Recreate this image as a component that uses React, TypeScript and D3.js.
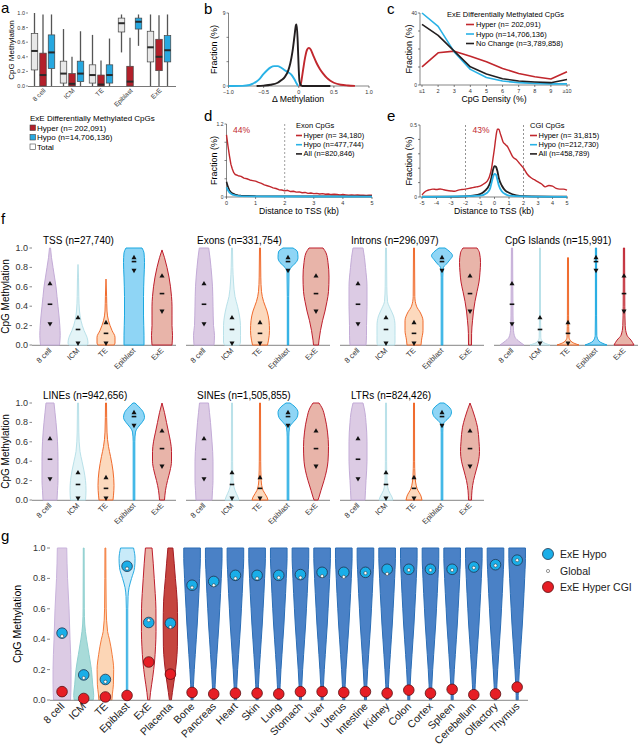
import React from "react";
import * as d3 from "d3";

const FONT = "'Liberation Sans', Arial, Helvetica, sans-serif";
const RED = "#c1272d";
const BLUE = "#29b2e6";
const BLACK = "#231f20";

// ---------------- Panel a ----------------
const aGroups = ["8 cell", "ICM", "TE", "Epiblast", "ExE"];
const aSeries = ["Total", "Hyper", "Hypo"];
// [whiskerLow, q1, median, q3, whiskerHigh]
const aTotal = [[0, 0.22, 0.48, 0.72, 1.0], [0, 0.04, 0.17, 0.34, 0.78], [0, 0.04, 0.15, 0.29, 0.7], [0.46, 0.74, 0.86, 0.93, 0.98], [0, 0.33, 0.53, 0.75, 0.98]];
const aHyper = [[0, 0, 0.15, 0.45, 0.98], [0, 0, 0.03, 0.17, 0.4], [0, 0, 0.02, 0.15, 0.35], [0, 0, 0.06, 0.27, 0.66], [0, 0.21, 0.4, 0.64, 0.97]];
const aHypo = [[0, 0.24, 0.46, 0.7, 0.98], [0, 0.06, 0.17, 0.34, 0.75], [0, 0.04, 0.15, 0.29, 0.65], [0.55, 0.78, 0.88, 0.93, 0.98], [0, 0.33, 0.49, 0.69, 0.98]];
const aLegend = ["Hyper (n= 202,091)", "Hypo (n=14,706,136)", "Total"];

// ---------------- Panel b ----------------
const bHypo = [[-1, 0], [-0.8, 0.02], [-0.7, 0.12], [-0.65, 0.3], [-0.6, 0.55], [-0.55, 0.95], [-0.5, 1.5], [-0.45, 1.95], [-0.4, 2.3], [-0.35, 2.45], [-0.3, 2.45], [-0.25, 2.25], [-0.2, 1.95], [-0.15, 1.7], [-0.1, 1.35], [-0.06, 0.8], [-0.03, 0.3], [-0.01, 0]];
const bNoChange = [[-0.6, 0], [-0.5, 0.05], [-0.4, 0.15], [-0.3, 0.4], [-0.25, 0.7], [-0.2, 1.1], [-0.15, 1.9], [-0.12, 2.8], [-0.09, 4.2], [-0.06, 6.2], [-0.04, 7.5], [-0.03, 7.6], [-0.015, 5.5], [0, 2.0], [0.01, 0.6], [0.03, 0.1], [0.05, 0], [0.45, 0]];
const bHyper = [[0.01, 0], [0.03, 0.3], [0.06, 1.9], [0.09, 3.5], [0.12, 4.5], [0.145, 4.7], [0.17, 4.5], [0.2, 3.9], [0.25, 2.9], [0.3, 2.1], [0.35, 1.5], [0.4, 1.0], [0.45, 0.65], [0.5, 0.4], [0.6, 0.15], [0.7, 0.06], [0.8, 0.02]];

// ---------------- Panel c ----------------
const cCategories = ["≤1", "2", "3", "4", "5", "6", "7", "8", "9", "≥10"];
const cHyper = [10.1, 17.9, 18.8, 16, 12.9, 9.2, 6.4, 4.6, 3.3, 7.4];
const cHypo = [40, 32.6, 18.4, 8.7, 4.2, 2.2, 1.3, 0.9, 0.6, 0.6];
const cNoChange = [33.7, 27.6, 18.8, 10.1, 6.1, 3.5, 2.2, 1.7, 1.3, 3.1];
const cLegend = ["Hyper (n= 202,091)", "Hypo (n=14,706,136)", "No Change (n=3,789,858)"];

// ---------------- Panel d ----------------
const dHyper = [[0, 1.02], [0.05, 0.84], [0.1, 0.68], [0.15, 0.54], [0.2, 0.46], [0.25, 0.4], [0.3, 0.37], [0.4, 0.35], [0.5, 0.34], [0.6, 0.31], [0.7, 0.3], [0.8, 0.28], [0.9, 0.27], [1.0, 0.26], [1.1, 0.24], [1.2, 0.225], [1.3, 0.2], [1.4, 0.185], [1.5, 0.17], [1.6, 0.15], [1.7, 0.14], [1.8, 0.12], [1.9, 0.115], [2.0, 0.1], [2.1, 0.11], [2.2, 0.09], [2.3, 0.095], [2.4, 0.08], [2.5, 0.085], [2.6, 0.07], [2.7, 0.075], [2.8, 0.06], [2.9, 0.065], [3.0, 0.055], [3.1, 0.06], [3.2, 0.05], [3.3, 0.055], [3.4, 0.045], [3.5, 0.05], [3.6, 0.04], [3.7, 0.045], [3.8, 0.04], [3.9, 0.035], [4.0, 0.04], [4.1, 0.035], [4.2, 0.03], [4.3, 0.035], [4.4, 0.03], [4.5, 0.032], [4.6, 0.028], [4.7, 0.03], [4.8, 0.027], [4.9, 0.03], [5.0, 0.028]];
const dHypo = [[0, 0.16], [0.05, 0.11], [0.1, 0.075], [0.15, 0.055], [0.2, 0.04], [0.3, 0.028], [0.4, 0.02], [0.5, 0.016], [1, 0.01], [2, 0.008], [5, 0.007]];
const dAll = [[0, 0.25], [0.05, 0.17], [0.1, 0.11], [0.15, 0.08], [0.2, 0.06], [0.3, 0.04], [0.4, 0.03], [0.5, 0.025], [0.75, 0.02], [1, 0.015], [2, 0.012], [3, 0.01], [4, 0.01], [5, 0.01]];
const dLegend = ["Hyper (n= 34,180)", "Hypo (n=477,744)", "All (n=820,846)"];

// ---------------- Panel e ----------------
const eHyper = [[-5, 0.015], [-4.75, 0.04], [-4.5, 0.05], [-4.25, 0.055], [-4, 0.052], [-3.75, 0.056], [-3.5, 0.05], [-3.25, 0.045], [-3, 0.042], [-2.75, 0.04], [-2.5, 0.048], [-2.25, 0.052], [-2, 0.055], [-1.75, 0.06], [-1.5, 0.065], [-1.25, 0.07], [-1, 0.075], [-0.75, 0.09], [-0.5, 0.11], [-0.35, 0.14], [-0.2, 0.2], [-0.1, 0.27], [0, 0.34], [0.1, 0.42], [0.2, 0.47], [0.3, 0.47], [0.4, 0.44], [0.5, 0.41], [0.6, 0.38], [0.7, 0.37], [0.8, 0.36], [0.9, 0.35], [1.0, 0.33], [1.1, 0.31], [1.25, 0.28], [1.5, 0.26], [1.75, 0.23], [2.0, 0.2], [2.25, 0.16], [2.5, 0.135], [2.75, 0.12], [3, 0.105], [3.25, 0.09], [3.5, 0.07], [3.75, 0.08], [4, 0.075], [4.25, 0.06], [4.5, 0.055], [4.75, 0.055], [5, 0.048]];
const eAll = [[-5, 0.002], [-2, 0.005], [-1.5, 0.01], [-1, 0.02], [-0.75, 0.035], [-0.5, 0.06], [-0.3, 0.1], [-0.2, 0.14], [-0.1, 0.19], [0, 0.215], [0.1, 0.21], [0.2, 0.18], [0.3, 0.13], [0.5, 0.08], [0.75, 0.045], [1, 0.03], [1.5, 0.012], [2, 0.006], [5, 0.002]];
const eHypo = [[-5, 0.001], [-1, 0.01], [-0.5, 0.03], [-0.3, 0.06], [-0.2, 0.1], [-0.1, 0.14], [0, 0.16], [0.1, 0.155], [0.2, 0.12], [0.3, 0.08], [0.5, 0.04], [0.75, 0.02], [1, 0.01], [2, 0.004], [5, 0.001]];
const eLegend = ["Hyper (n= 31,815)", "Hypo (n=212,730)", "All (n=458,789)"];

// ---------------- Panel f ----------------
const fCategories = ["8 cell", "ICM", "TE", "Epiblast", "ExE"];
// each violin: [methylation, half-width density] from top to bottom
const fTSS = [
  [[1, 0.5], [0.9, 1.5], [0.8, 3], [0.7, 4.5], [0.6, 6], [0.5, 7], [0.4, 8], [0.3, 9], [0.2, 9.8], [0.1, 10.2], [0, 9.5]],
  [[0.83, 0], [0.7, 0.5], [0.5, 0.8], [0.35, 1.5], [0.25, 3], [0.15, 6], [0.08, 9], [0.02, 10], [0, 9]],
  [[0.68, 0], [0.5, 0.6], [0.35, 1], [0.25, 2.5], [0.15, 6], [0.08, 9], [0.02, 9], [0, 8]],
  [[1, 8], [0.95, 10], [0.85, 10.5], [0.7, 10], [0.5, 9.5], [0.3, 9.5], [0.1, 10], [0, 10]],
  [[0.98, 0], [0.9, 2.5], [0.8, 5], [0.7, 7], [0.6, 8.5], [0.5, 9.5], [0.4, 10], [0.3, 10], [0.2, 10], [0.1, 10.5], [0, 10]],
];
const fExons = [
  [[1, 4.7], [0.9, 6], [0.8, 7], [0.6, 8.5], [0.4, 9], [0.2, 9.5], [0.1, 10.5], [0, 10]],
  [[1, 0.5], [0.8, 0.8], [0.65, 1.5], [0.5, 3], [0.4, 5.5], [0.3, 7.5], [0.2, 8.5], [0.1, 8.5], [0.03, 8.5], [0, 7.5]],
  [[1, 0.5], [0.7, 0.8], [0.55, 1.5], [0.45, 3.5], [0.35, 7], [0.25, 9], [0.15, 9.5], [0.05, 8.5], [0, 7.5]],
  [[1, 5], [0.96, 9.5], [0.9, 10], [0.85, 8], [0.8, 3], [0.75, 1], [0.5, 0.7], [0, 0.7]],
  [[1, 7], [0.95, 10], [0.85, 12], [0.7, 13], [0.55, 12.5], [0.45, 11], [0.35, 9], [0.25, 6.5], [0.15, 4.5], [0.05, 3], [0, 2.5]],
];
const fIntrons = [
  [[1, 5], [0.9, 6.5], [0.8, 7.5], [0.6, 9], [0.4, 9], [0.2, 8.5], [0.1, 8.5], [0, 8]],
  [[1, 0.5], [0.6, 0.8], [0.45, 1.5], [0.38, 4], [0.3, 7.5], [0.2, 9], [0.1, 9], [0.03, 9], [0, 8.5]],
  [[1, 0.5], [0.5, 0.8], [0.4, 2.5], [0.33, 6.5], [0.25, 9], [0.15, 9], [0.05, 7.5], [0, 7]],
  [[1, 3], [0.96, 8], [0.92, 10.5], [0.88, 8], [0.83, 4], [0.8, 1.5], [0.7, 0.8], [0, 0.8]],
  [[1, 7], [0.95, 9.5], [0.85, 10.5], [0.75, 10], [0.65, 9], [0.55, 7], [0.45, 5], [0.35, 3.5], [0.25, 2.5], [0.12, 1.6], [0, 1.5]],
];
const fCGI = [
  [[1, 0.6], [0.6, 0.8], [0.3, 1], [0.15, 1.5], [0.08, 3], [0.03, 8], [0, 12]],
  [[1, 0.5], [0.3, 0.5], [0.08, 0.8], [0.03, 3], [0, 10]],
  [[0.9, 0.5], [0.3, 0.6], [0.08, 1], [0.03, 4], [0, 11]],
  [[1, 0.6], [0.3, 0.6], [0.1, 0.8], [0.04, 3], [0, 11]],
  [[1, 0.6], [0.4, 0.8], [0.2, 1.2], [0.1, 3], [0.05, 7], [0, 10]],
];
const fLINEs = [
  [[1, 4], [0.9, 5], [0.8, 6], [0.6, 7.5], [0.4, 8], [0.2, 8], [0.1, 7.5], [0, 7]],
  [[1, 0.5], [0.7, 0.8], [0.5, 2], [0.4, 4], [0.3, 6], [0.2, 7.5], [0.1, 8], [0, 7.5]],
  [[1, 0.5], [0.7, 1], [0.55, 2.5], [0.45, 4.5], [0.3, 7], [0.15, 8], [0.05, 7.5], [0, 7]],
  [[1, 1], [0.96, 5], [0.9, 9.5], [0.85, 10.5], [0.8, 8], [0.75, 4], [0.7, 1.5], [0.6, 0.8], [0, 0.8]],
  [[1, 0], [0.9, 2.5], [0.8, 4.5], [0.7, 6.5], [0.6, 8.5], [0.5, 9.5], [0.4, 9.5], [0.3, 8], [0.2, 5.5], [0.1, 3.5], [0, 2.5]],
];
const fSINEs = [
  [[1, 4.5], [0.9, 5.5], [0.8, 6.5], [0.6, 8], [0.4, 9], [0.2, 9], [0.1, 8.5], [0, 8]],
  [[1, 0.5], [0.4, 0.6], [0.2, 1], [0.1, 3], [0.03, 6], [0, 7]],
  [[1, 0.5], [0.4, 0.7], [0.2, 1.2], [0.1, 3], [0.03, 7], [0, 8]],
  [[1, 2], [0.96, 7], [0.9, 10], [0.85, 9], [0.8, 5], [0.75, 1.5], [0.65, 0.8], [0, 0.8]],
  [[1, 3], [0.95, 6], [0.85, 9], [0.7, 11.5], [0.55, 12.5], [0.4, 12], [0.3, 10.5], [0.2, 8], [0.1, 5], [0.03, 3], [0, 2]],
];
const fLTRs = [
  [[1, 5], [0.9, 7], [0.8, 8], [0.6, 9], [0.4, 9], [0.2, 8], [0.1, 7.5], [0, 7]],
  [[1, 0.5], [0.4, 0.6], [0.2, 1], [0.1, 2.5], [0.03, 6], [0, 7]],
  [[1, 0.5], [0.4, 0.6], [0.25, 1], [0.12, 3], [0.04, 7], [0, 8]],
  [[1, 2], [0.96, 7], [0.91, 9.5], [0.86, 8], [0.82, 4], [0.78, 1.2], [0.7, 0.8], [0, 0.8]],
  [[1, 0], [0.93, 2.5], [0.85, 5], [0.75, 7.5], [0.6, 9], [0.5, 9.5], [0.4, 8.5], [0.3, 6], [0.2, 3.5], [0.1, 2], [0, 1.5]],
];
// [q1, median, q3]
const fMarkers = [[0.22, 0.42, 0.63], [0.02, 0.16, 0.28], [0.02, 0.12, 0.23], [0.77, 0.86, 0.9], [0.35, 0.53, 0.71]];
const fTopTitles = ["TSS (n=27,740)", "Exons (n=331,754)", "Introns (n=296,097)", "CpG Islands (n=15,991)"];
const fBottomTitles = ["LINEs (n=942,656)", "SINEs (n=1,505,855)", "LTRs (n=824,426)"];
const fFill = ["#dccbe4", "#e3f4f7", "#fcd9bd", "#8fd5f5", "#e8b4a9"];
const fStroke = ["#c3abd7", "#b9e1e9", "#f06a2c", "#1ba8e0", "#be1e2d"];

// ---------------- Panel g ----------------
const gCategories = ["8 cell", "ICM", "TE", "Epiblast", "ExE", "Placenta", "Bone", "Pancreas", "Heart", "Skin", "Lung", "Stomach", "Liver", "Uterus", "Intestine", "Kidney", "Colon", "Cortex", "Spleen", "Cerebellum", "Olfactory", "Thymus"];
const gHypo = [0.44, 0.165, 0.135, 0.88, 0.51, 0.505, 0.755, 0.78, 0.82, 0.82, 0.82, 0.825, 0.84, 0.84, 0.84, 0.86, 0.86, 0.86, 0.86, 0.875, 0.89, 0.92];
const gGlobal = [0.42, 0.145, 0.12, 0.865, 0.525, 0.48, 0.74, 0.755, 0.8, 0.8, 0.805, 0.805, 0.815, 0.81, 0.835, 0.83, 0.855, 0.855, 0.855, 0.87, 0.885, 0.92];
const gHyperCGI = [0.055, 0.01, 0.02, 0.03, 0.25, 0.17, 0.05, 0.04, 0.045, 0.045, 0.04, 0.055, 0.055, 0.05, 0.055, 0.045, 0.065, 0.045, 0.07, 0.035, 0.04, 0.085];
const gEarlyViolins = [
  [[1, 4.7], [0.9, 5], [0.8, 5.5], [0.6, 7], [0.4, 8], [0.2, 9], [0.1, 9], [0, 8.5]],
  [[1, 0.4], [0.6, 0.6], [0.5, 1], [0.4, 2.8], [0.3, 5.3], [0.2, 7.7], [0.1, 9], [0.03, 10], [0, 9.5]],
  [[1, 0.4], [0.6, 0.8], [0.45, 2.2], [0.4, 4], [0.3, 6.7], [0.2, 8.3], [0.1, 8], [0.04, 7], [0, 6.5]],
  [[1, 6.5], [0.93, 8], [0.87, 7.5], [0.8, 4.5], [0.74, 2], [0.68, 1], [0.6, 0.7], [0, 0.7]],
  [[1, 3.3], [0.9, 4.5], [0.8, 5.5], [0.7, 6.5], [0.6, 7.2], [0.45, 7.3], [0.35, 6.8], [0.25, 5.8], [0.15, 4], [0.05, 1.8], [0, 1]],
  [[1, 2.5], [0.9, 3.8], [0.8, 5], [0.65, 6.8], [0.5, 7.2], [0.35, 7], [0.25, 6], [0.15, 4.2], [0.05, 2], [0, 1]],
];
const gTissueViolin = [[1, 8.3], [0.93, 8.3], [0.86, 7.9], [0.8, 7.5], [0.7, 6.8], [0.6, 6], [0.5, 5.2], [0.4, 4.2], [0.3, 3.2], [0.2, 2.2], [0.1, 1.4], [0.03, 1], [0, 1]];
const gFill = ["#dccbe4", "#a8dbd9", "#fcd6b6", "#c8eaf9", "#e8b4a8", "#c5453f", "#4a81c6"];
const gStroke = ["#c9b3dc", "#8fd0d0", "#f47b3b", "#29abe2", "#be1e2d", "#a31c24", "#2a6db5"];
const gLegend = ["ExE Hypo", "Global", "ExE Hyper CGI"];

// ------------------------------------------------
const triUp = d3.symbol().type(d3.symbolTriangle).size(11)();

function Violin({ pts, cx, y, w, fill, stroke, sw = 0.9 }: any) {
  const area = d3
    .area<any>()
    .y((d) => y(d[0]))
    .x0((d) => cx - w(d[1]))
    .x1((d) => cx + w(d[1]))
    .curve(d3.curveMonotoneY);
  return <path d={area(pts) || ""} fill={fill} stroke={stroke} strokeWidth={sw} strokeLinejoin="round" />;
}

function PanelA() {
  const y = d3.scaleLinear([0, 1], [86, 13]);
  const x = d3.scaleBand(aGroups, [28.5, 173.5]);
  const sub = d3.scaleBand(aSeries, [-12.75, 12.75]);
  const data: any = { Total: aTotal, Hyper: aHyper, Hypo: aHypo };
  const fills: any = { Total: "#e8e8e8", Hyper: "#b3202a", Hypo: "#27a8e0" };
  const bw = 6.5;
  const legFills = ["#b3202a", "#27a8e0", "#ffffff"];
  return (
    <g>
      <text x={1} y={13} fontSize={15}>a</text>
      <text transform="translate(14,50) rotate(-90)" textAnchor="middle" fontSize={8}>CpG Methylation</text>
      {y.ticks(5).map((t) => (
        <g key={t}>
          <line x1={26} x2={28} y1={y(t)} y2={y(t)} stroke="#444" strokeWidth={0.6} />
          <text x={25} y={y(t) + 2} textAnchor="end" fontSize={5.5} fill="#333">{t.toFixed(1)}</text>
        </g>
      ))}
      {aGroups.map((g, i) => {
        const cx = (x(g) as number) + x.bandwidth() / 2;
        return (
          <g key={g}>
            {aSeries.map((s) => {
              const [lo, q1, md, q3, hi] = data[s][i];
              const bx = cx + (sub(s) as number) + sub.bandwidth() / 2;
              return (
                <g key={s}>
                  <line x1={bx} x2={bx} y1={y(hi)} y2={y(q3)} stroke="#555" strokeWidth={1.3} />
                  <line x1={bx} x2={bx} y1={y(q1)} y2={y(lo)} stroke="#555" strokeWidth={1.3} />
                  <rect x={bx - bw / 2} y={y(q3)} width={bw} height={Math.max(0.5, y(q1) - y(q3))} fill={fills[s]} stroke="#444" strokeWidth={0.7} />
                  <line x1={bx - bw / 2} x2={bx + bw / 2} y1={y(md)} y2={y(md)} stroke="#2a2a2a" strokeWidth={2} />
                </g>
              );
            })}
            <text transform={`translate(${cx + 3},91) rotate(-45)`} textAnchor="end" fontSize={6.5} fill="#333">{g}</text>
          </g>
        );
      })}
      <line x1={28} x2={176} y1={86.5} y2={86.5} stroke="#555" strokeWidth={0.8} />
      <text x={30} y={121} fontSize={8}>ExE Differentially Methylated CpGs</text>
      {aLegend.map((l, i) => (
        <g key={l}>
          <rect x={30} y={125 + i * 9.5} width={5.5} height={5.5} fill={legFills[i]} stroke="#444" strokeWidth={0.6} />
          <text x={37} y={130.5 + i * 9.5} fontSize={8}>{l}</text>
        </g>
      ))}
    </g>
  );
}

function LinePanel({ x, y, xTicks, xTickFmt, yTicks, yLabels, yTop, yBase, xLeft, xRight, series, xTitle, titleX, yTitleX, letter, letterX, letterY, tickLabelY, titleY }: any) {
  return (
    <g>
      <text x={letterX} y={letterY} fontSize={15}>{letter}</text>
      <text transform={`translate(${yTitleX},${(yTop + yBase) / 2}) rotate(-90)`} textAnchor="middle" fontSize={9}>Fraction (%)</text>
      <line x1={xLeft} x2={xLeft} y1={yTop} y2={yBase} stroke="#333" strokeWidth={0.6} />
      <line x1={xLeft} x2={xRight} y1={yBase} y2={yBase} stroke="#333" strokeWidth={0.6} />
      {yTicks.map((t: number) => (
        <g key={t}>
          <line x1={xLeft - 2} x2={xLeft} y1={y(t)} y2={y(t)} stroke="#333" strokeWidth={0.6} />
          {yLabels.includes(t) && (
            <text x={xLeft - 3} y={y(t) + 1.8} textAnchor="end" fontSize={5} fill="#333">{t}</text>
          )}
        </g>
      ))}
      {xTicks.map((t: any, i: number) => (
        <g key={i}>
          <line x1={x(t)} x2={x(t)} y1={yBase} y2={yBase + 2} stroke="#333" strokeWidth={0.6} />
          <text x={x(t)} y={tickLabelY} textAnchor="middle" fontSize={5.5} fill="#333">{xTickFmt(t)}</text>
        </g>
      ))}
      {series}
      <text x={titleX} y={titleY} textAnchor="middle" fontSize={8.7}>{xTitle}</text>
    </g>
  );
}

function PanelB() {
  const x = d3.scaleLinear([-1, 1], [228.5, 369]);
  const y = d3.scaleLinear([0, 9], [86, 13]);
  const line = d3.line<any>().x((d) => x(d[0])).y((d) => y(d[1])).curve(d3.curveMonotoneX);
  const series = (
    <g fill="none" strokeWidth={1.9} strokeLinejoin="round">
      <path d={line(bHypo) || ""} stroke={BLUE} />
      <path d={line(bHyper) || ""} stroke={RED} />
      <path d={line(bNoChange) || ""} stroke={BLACK} />
    </g>
  );
  return (
    <LinePanel x={x} y={y} xTicks={[-1, -0.5, 0, 0.5, 1]} xTickFmt={(t: number) => (t === 0 ? "0" : t.toFixed(1).replace("-", "−"))}
      yTicks={[0, 3, 6, 9]} yLabels={[0, 9]} yTop={13} yBase={86} xLeft={228.5} xRight={369}
      series={series} xTitle="Δ Methylation" titleX={298} yTitleX={217} letter="b" letterX={204} letterY={14} tickLabelY={93.5} titleY={102} />
  );
}

function PanelC() {
  const x = d3.scalePoint(cCategories, [422, 567]);
  const y = d3.scaleLinear([0, 40], [85, 13]);
  const line = d3.line<any>().x((d, i) => x(cCategories[i]) as number).y((d) => y(d));
  const series = (
    <g fill="none" strokeWidth={1.6} strokeLinejoin="round">
      <path d={line(cHyper as any) || ""} stroke={RED} />
      <path d={line(cHypo as any) || ""} stroke={BLUE} />
      <path d={line(cNoChange as any) || ""} stroke={BLACK} />
    </g>
  );
  const cols = [RED, BLUE, BLACK];
  return (
    <g>
      <LinePanel x={x} y={y} xTicks={cCategories} xTickFmt={(t: string) => t}
        yTicks={[0, 10, 20, 30, 40]} yLabels={[0, 40]} yTop={13} yBase={85} xLeft={420} xRight={570}
        series={series} xTitle="CpG Density (%)" titleX={494} yTitleX={411.5} letter="c" letterX={387} letterY={14} tickLabelY={93} titleY={102} />
      <text x={447} y={17} fontSize={7.5}>ExE Differentially Methylated CpGs</text>
      {cLegend.map((l, i) => (
        <g key={l}>
          <line x1={466} x2={474} y1={24.5 + i * 9.5} y2={24.5 + i * 9.5} stroke={cols[i]} strokeWidth={1.6} />
          <text x={476} y={27 + i * 9.5} fontSize={7.5}>{l}</text>
        </g>
      ))}
    </g>
  );
}

function PanelD() {
  const x = d3.scaleLinear([0, 5], [226.5, 372]);
  const y = d3.scaleLinear([0, 1.2], [197, 124]);
  const line = d3.line<any>().x((d) => x(d[0])).y((d) => y(d[1]));
  const series = (
    <g fill="none" strokeLinejoin="round">
      <line x1={x(2)} x2={x(2)} y1={124} y2={197} stroke="#888" strokeWidth={0.8} strokeDasharray="2,2" />
      <path d={line(dHyper) || ""} stroke={RED} strokeWidth={1.4} />
      <path d={line(dAll) || ""} stroke={BLACK} strokeWidth={1.6} />
      <path d={line(dHypo) || ""} stroke={BLUE} strokeWidth={1.8} />
    </g>
  );
  const cols = [RED, BLUE, BLACK];
  return (
    <g>
      <LinePanel x={x} y={y} xTicks={[0, 1, 2, 3, 4, 5]} xTickFmt={(t: number) => String(t)}
        yTicks={[0, 0.3, 0.6, 0.9, 1.2]} yLabels={[0, 1.2]} yTop={124} yBase={197} xLeft={226.5} xRight={372}
        series={series} xTitle="Distance to TSS (kb)" titleX={299} yTitleX={217} letter="d" letterX={204} letterY={121} tickLabelY={205} titleY={214} />
      <text x={233} y={133} fontSize={8.5} fill={RED}>44%</text>
      <text x={296} y={128} fontSize={7.5}>Exon CpGs</text>
      {dLegend.map((l, i) => (
        <g key={l}>
          <line x1={296} x2={302} y1={135.5 + i * 9.2} y2={135.5 + i * 9.2} stroke={cols[i]} strokeWidth={1.6} />
          <text x={303.5} y={138 + i * 9.2} fontSize={7.5}>{l}</text>
        </g>
      ))}
    </g>
  );
}

function PanelE() {
  const x = d3.scaleLinear([-5, 5], [422, 567]);
  const y = d3.scaleLinear([0, 0.5], [197, 125]);
  const line = d3.line<any>().x((d) => x(d[0])).y((d) => y(d[1])).curve(d3.curveMonotoneX);
  const series = (
    <g fill="none" strokeLinejoin="round">
      <line x1={x(-2)} x2={x(-2)} y1={125} y2={197} stroke="#777" strokeWidth={0.8} strokeDasharray="2,2" />
      <line x1={x(2)} x2={x(2)} y1={125} y2={197} stroke="#777" strokeWidth={0.8} strokeDasharray="2,2" />
      <path d={line(eHyper) || ""} stroke={RED} strokeWidth={1.4} />
      <path d={line(eAll) || ""} stroke={BLACK} strokeWidth={1.8} />
      <path d={line(eHypo) || ""} stroke={BLUE} strokeWidth={1.8} />
    </g>
  );
  const cols = [RED, BLUE, BLACK];
  return (
    <g>
      <LinePanel x={x} y={y} xTicks={d3.range(-5, 6)} xTickFmt={(t: number) => String(t)}
        yTicks={[0, 0.1, 0.2, 0.3, 0.4, 0.5]} yLabels={[0, 0.5]} yTop={125} yBase={197} xLeft={420} xRight={568}
        series={series} xTitle="Distance to TSS (kb)" titleX={494} yTitleX={411.5} letter="e" letterX={387} letterY={121} tickLabelY={205} titleY={214} />
      <text x={481} y={133} fontSize={8.5} fill={RED} textAnchor="middle">43%</text>
      <text x={530} y={128} fontSize={7.5}>CGI CpGs</text>
      {eLegend.map((l, i) => (
        <g key={l}>
          <line x1={530} x2={537} y1={135.5 + i * 9.2} y2={135.5 + i * 9.2} stroke={cols[i]} strokeWidth={1.6} />
          <text x={538.5} y={138 + i * 9.2} fontSize={7.5}>{l}</text>
        </g>
      ))}
    </g>
  );
}

function FRow({ panels, titles, yBase, yTop }: any) {
  const y = d3.scaleLinear([0, 1], [yBase, yTop]);
  const x = d3.scaleBand(fCategories, [36, 176]);
  const w = d3.scaleLinear([0, 10], [0, 10]);
  const off = d3.scaleLinear([0, 1], [0, 154]);
  return (
    <g>
      <text transform={`translate(9,${(yBase + yTop) / 2}) rotate(-90)`} textAnchor="middle" fontSize={10}>CpG Methylation</text>
      {y.ticks(5).map((t) => (
        <g key={t}>
          <line x1={29.5} x2={32} y1={y(t)} y2={y(t)} stroke="#555" strokeWidth={0.7} />
          <text x={28} y={y(t) + 3} textAnchor="end" fontSize={9} fill="#333">{t.toFixed(1)}</text>
        </g>
      ))}
      {panels.map((vs: any, p: number) => {
        const o = off(p);
        return (
          <g key={p}>
            <text x={o + 43} y={yTop - 4} fontSize={10}>{titles[p]}</text>
            <line x1={o + 32} x2={o + 176} y1={yBase + 0.3} y2={yBase + 0.3} stroke="#777" strokeWidth={0.9} />
            {fCategories.map((c, i) => {
              const cx = o + (x(c) as number) + x.bandwidth() / 2;
              const [q1, md, q3] = fMarkers[i];
              return (
                <g key={c}>
                  <Violin pts={vs[i]} cx={cx} y={y} w={w} fill={fFill[i]} stroke={fStroke[i]} sw={1} />
                  <path d={triUp || ""} transform={`translate(${cx},${y(q3)})`} fill="#111" />
                  <rect x={cx - 2.3} y={y(md) - 0.8} width={4.6} height={1.6} fill="#111" />
                  <path d={triUp || ""} transform={`translate(${cx},${y(q1)}) rotate(180)`} fill="#111" />
                  <text transform={`translate(${cx + 2},${yBase + 6}) rotate(-45)`} textAnchor="end" fontSize={7.5} fill="#333">{c}</text>
                </g>
              );
            })}
          </g>
        );
      })}
    </g>
  );
}

function PanelF() {
  return (
    <g>
      <text x={1} y={224} fontSize={15}>f</text>
      <FRow panels={[fTSS, fExons, fIntrons, fCGI]} titles={fTopTitles} yBase={345} yTop={248} />
      <FRow panels={[fLINEs, fSINEs, fLTRs]} titles={fBottomTitles} yBase={500} yTop={403} />
    </g>
  );
}

function PanelG() {
  const y = d3.scaleLinear([0, 1], [700, 548]);
  const x = d3.scaleBand(gCategories, [51.2, 528]);
  const w = d3.scaleLinear([0, 10], [0, 10]);
  return (
    <g>
      <text x={1} y={541} fontSize={15}>g</text>
      <text transform={`translate(21,624) rotate(-90)`} textAnchor="middle" fontSize={10.5}>CpG Methylation</text>
      {y.ticks(5).map((t) => (
        <g key={t}>
          <line x1={47} x2={50} y1={y(t)} y2={y(t)} stroke="#555" strokeWidth={0.7} />
          <text x={45.5} y={y(t) + 3} textAnchor="end" fontSize={9} fill="#333">{t.toFixed(1)}</text>
        </g>
      ))}
      {gCategories.map((c, i) => {
        const cx = (x(c) as number) + x.bandwidth() / 2;
        const k = Math.min(i, 6);
        return (
          <Violin key={c} pts={i < 6 ? gEarlyViolins[i] : gTissueViolin} cx={cx} y={y} w={w} fill={gFill[k]} stroke={gStroke[k]} sw={1} />
        );
      })}
      <line x1={50} x2={528} y1={700.3} y2={700.3} stroke="#888" strokeWidth={1} />
      {gCategories.map((c, i) => {
        const cx = (x(c) as number) + x.bandwidth() / 2;
        return (
          <g key={c}>
            <circle cx={cx} cy={y(gHypo[i])} r={5.3} fill="#1aaee8" stroke="#1d3550" strokeWidth={0.8} />
            <circle cx={cx} cy={y(gGlobal[i])} r={1.6} fill="#fff" stroke="#333" strokeWidth={0.5} />
            <circle cx={cx} cy={y(gHyperCGI[i])} r={5.3} fill="#e61e25" stroke="#5b0f12" strokeWidth={0.8} />
            <text transform={`translate(${cx + 3},707) rotate(-45)`} textAnchor="end" fontSize={10.5} fill="#222">{c}</text>
          </g>
        );
      })}
      <circle cx={548} cy={554} r={5.5} fill="#1aaee8" stroke="#1d3550" strokeWidth={0.8} />
      <circle cx={548} cy={571} r={1.6} fill="#fff" stroke="#333" strokeWidth={0.5} />
      <circle cx={548} cy={587} r={5.5} fill="#e61e25" stroke="#5b0f12" strokeWidth={0.8} />
      {gLegend.map((l, i) => (
        <text key={l} x={560} y={558 + i * 16.5} fontSize={10.5} fill="#222">{l}</text>
      ))}
    </g>
  );
}

export default function App() {
  return (
    <svg width={642} height={750} viewBox="0 0 642 750" style={{ position: "absolute", left: 0, top: 0, background: "#fff" }} fontFamily={FONT}>
      <rect width={642} height={750} fill="#fff" />
      <PanelA />
      <PanelB />
      <PanelC />
      <PanelD />
      <PanelE />
      <PanelF />
      <PanelG />
    </svg>
  );
}
